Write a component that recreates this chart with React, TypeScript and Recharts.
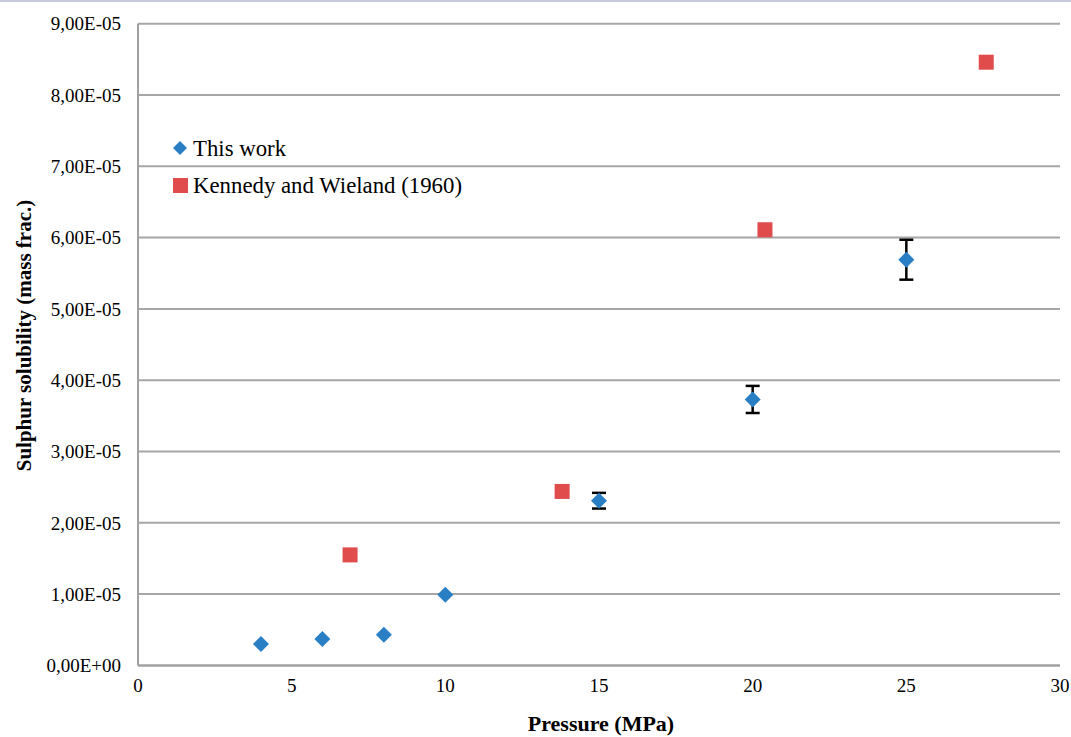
import { ScatterChart, Scatter, XAxis, YAxis, CartesianGrid, ErrorBar } from 'recharts'

const thisWorkPressure = [4, 6, 8, 10, 15, 20, 25]
const thisWorkSolubility = [3.0e-6, 3.7e-6, 4.3e-6, 9.9e-6, 2.31e-5, 3.73e-5, 5.69e-5]
const thisWorkError = [null, null, null, null, 1.1e-6, 1.9e-6, 2.8e-6]

const kennedyPressure = [6.9, 13.8, 20.4, 27.6]
const kennedySolubility = [1.55e-5, 2.44e-5, 6.11e-5, 8.46e-5]

const xTicks = [0, 5, 10, 15, 20, 25, 30]
const yTicks = [0, 1e-5, 2e-5, 3e-5, 4e-5, 5e-5, 6e-5, 7e-5, 8e-5, 9e-5]

const thisWork = thisWorkPressure.map((p, i) => ({ p, s: thisWorkSolubility[i], err: thisWorkError[i] }))
const kennedy = kennedyPressure.map((p, i) => ({ p, s: kennedySolubility[i] }))

const FONT = '"Liberation Serif", "Times New Roman", serif'
const BLUE = '#2a7fc4'
const RED = '#e04c4c'

// 9e-5 -> "9,00E-05"
function sci(v: number) {
  if (v === 0) return '0,00E+00'
  const exp = Math.floor(Math.log10(Math.abs(v)) + 1e-9)
  const mant = v / Math.pow(10, exp)
  const sign = exp < 0 ? '-' : '+'
  return `${mant.toFixed(2).replace('.', ',')}E${sign}${String(Math.abs(exp)).padStart(2, '0')}`
}

const Diamond = (props: any) => {
  const { cx, cy } = props
  const r = 8
  return <polygon points={`${cx},${cy - r} ${cx + r},${cy} ${cx},${cy + r} ${cx - r},${cy}`} fill={BLUE} />
}

const Square = (props: any) => {
  const { cx, cy } = props
  const r = 7.5
  return <rect x={cx - r} y={cy - r} width={r * 2} height={r * 2} fill={RED} />
}

const YTitle = (props: any) => {
  const vb = props.viewBox
  const x = 24
  const y = vb.y + vb.height / 2 - 9
  return (
    <text x={x} y={y} transform={`rotate(-90, ${x}, ${y})`} textAnchor="middle" dominantBaseline="central"
      fill="#000" fontSize={21} fontWeight="bold" fontFamily={FONT}>
      Sulphur solubility (mass frac.)
    </text>
  )
}

function LegendBox() {
  const rows = [
    { name: 'This work', icon: <polygon points="7,0 14,7 7,14 0,7" fill={BLUE} /> },
    { name: 'Kennedy and Wieland (1960)', icon: <rect x="0" y="0" width="15" height="15" fill={RED} /> },
  ]
  return (
    <div style={{ position: 'absolute', left: 173, top: 130, fontFamily: FONT, fontSize: 22.8, color: '#000' }}>
      {rows.map((r) => (
        <div key={r.name} style={{ display: 'flex', alignItems: 'center', height: 37 }}>
          <svg width={16} height={16} style={{ marginRight: 4 }}>{r.icon}</svg>
          <span>{r.name}</span>
        </div>
      ))}
    </div>
  )
}

export default function App() {
  return (
    <div style={{ position: 'absolute', left: 0, top: 0, width: 1071, height: 737, background: '#fff' }}>
      <div style={{ position: 'absolute', left: 0, top: 0, width: 1071, borderTop: '2px solid #c9c9de' }} />
      <ScatterChart width={1071} height={737} margin={{ top: 23.7, right: 11, bottom: 0, left: 0 }}>
        <CartesianGrid horizontal vertical={false} stroke="#a6a6a6" strokeWidth={2} />
        <XAxis
          type="number"
          dataKey="p"
          domain={[0, 30]}
          ticks={xTicks}
          tickLine={false}
          tickSize={0}
          tickMargin={13}
          axisLine={{ stroke: '#a0a0a0', strokeWidth: 2 }}
          tick={{ fill: '#000', fontSize: 19, fontFamily: FONT }}
          label={{ value: 'Pressure (MPa)', position: 'insideBottom', offset: 6, fill: '#000', fontSize: 22, fontWeight: 'bold', fontFamily: FONT, dx: 2 }}
          height={71.6}
        />
        <YAxis
          type="number"
          dataKey="s"
          domain={[0, 9e-5]}
          ticks={yTicks}
          tickFormatter={sci}
          tickLine={false}
          tickSize={0}
          tickMargin={17}
          width={138}
          axisLine={{ stroke: '#a0a0a0', strokeWidth: 2 }}
          tick={{ fill: '#000', fontSize: 19, fontFamily: FONT }}
          label={{ content: YTitle }}
        />
        <Scatter name="This work" data={thisWork} shape={Diamond} isAnimationActive={false}>
          <ErrorBar dataKey="err" direction="y" width={7} stroke="#000" strokeWidth={2.5} />
        </Scatter>
        <Scatter name="Kennedy and Wieland (1960)" data={kennedy} shape={Square} isAnimationActive={false} />
      </ScatterChart>
      <LegendBox />
    </div>
  )
}
